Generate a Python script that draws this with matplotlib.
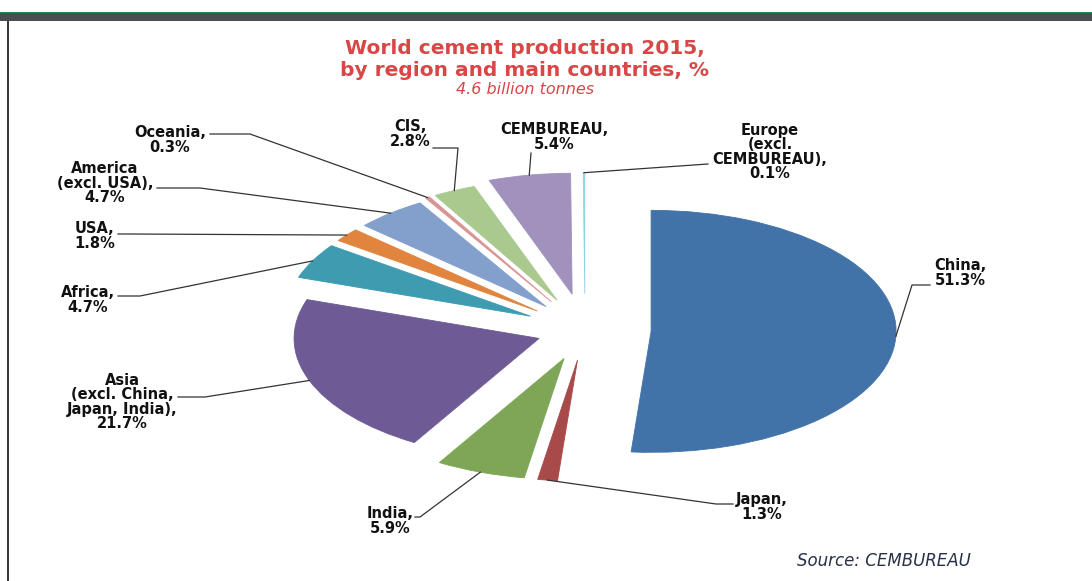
import matplotlib.pyplot as plt
from matplotlib.patches import Rectangle
import numpy as np

# world cement production 2015, share by region (%)
regions = ["China", "Japan", "India", "Asia\n(excl. China,\nJapan, India)", "Africa", "USA",
           "America\n(excl. USA)", "Oceania", "CIS", "CEMBUREAU", "Europe\n(excl.\nCEMBUREAU)"]
shares = [51.3, 1.3, 5.9, 21.7, 4.7, 1.8, 4.7, 0.3, 2.8, 5.4, 0.1]

colors = ["#4273a8", "#a84a4a", "#7fa656", "#6e5a95", "#3e9bb0", "#e0843e",
          "#839fcc", "#d99594", "#a9c98e", "#a091bd", "#8fd3e4"]
explode = [0.27, 0.25, 0.25, 0.2, 0.25, 0.25, 0.25, 0.27, 0.27, 0.3, 0.3]

# label centre (px) and leader elbows (px) for each slice
label_pos = [(960, 273), (762, 507), (390, 521), (122, 402), (88, 300), (95, 236),
             (105, 183), (170, 140), (410, 134), (554, 137), (770, 152)]
elbows = [[(912, 285), (930, 285)], [(716, 504), (733, 504)], [(420, 517), (415, 517)],
          [(205, 397), (178, 397)], [(140, 296), (118, 296)], [(130, 234), (118, 234)],
          [(200, 188), (157, 188)], [(250, 134), (210, 134)], [(458, 148), (433, 148)],
          [(531, 153)], [(708, 164)]]

W, H = 1092, 581
fig = plt.figure(figsize=(W / 100, H / 100), dpi=100)

# pie sits in its own axes, stretched horizontally
cx, cy, sx, sy, ext = 585, 330, 245, 121, 1.6
pax = fig.add_axes([(cx - ext * sx) / W, (H - (cy + ext * sy)) / H,
                    2 * ext * sx / W, 2 * ext * sy / H])
wedges, _ = pax.pie(shares, colors=colors, explode=explode, startangle=90,
                    counterclock=False, radius=1, wedgeprops=dict(linewidth=0.6))
for w, c in zip(wedges, colors):
    w.set_edgecolor(c)
pax.set_aspect("auto")
pax.set_xlim(-ext, ext)
pax.set_ylim(-ext, ext)
pax.axis("off")

# overlay in pixel coordinates for frame, titles, labels
ov = fig.add_axes([0, 0, 1, 1])
ov.set_xlim(0, W)
ov.set_ylim(H, 0)
ov.axis("off")

ov.add_patch(Rectangle((0, 11.5), W, 1.5, color="#1f8a50", lw=0))
ov.add_patch(Rectangle((0, 13.0), W, 8.0, color="#4b4e51", lw=0))
ov.add_patch(Rectangle((6.5, 21), 2.5, H - 21, color="#3a3a3a", lw=0))

red = "#d84646"
ov.text(525, 48, "World cement production 2015,", ha="center", va="center",
        fontsize=14.5, fontweight="bold", color=red)
ov.text(525, 70, "by region and main countries, %", ha="center", va="center",
        fontsize=14.5, fontweight="bold", color=red)
ov.text(525, 90, "4.6 billion tonnes", ha="center", va="center",
        fontsize=11.5, style="italic", color=red)
ov.text(884, 561, "Source: CEMBUREAU", ha="center", va="center",
        fontsize=12, style="italic", color="#283048")

for w, name, share, pos, elb in zip(wedges, regions, shares, label_pos, elbows):
    mid = np.deg2rad((w.theta1 + w.theta2) / 2)
    ax_pt = (w.center[0] + w.r * np.cos(mid), w.center[1] + w.r * np.sin(mid))
    px = ov.transData.inverted().transform(pax.transData.transform(ax_pt))
    pts = [tuple(px)] + elb
    ov.plot([p[0] for p in pts], [p[1] for p in pts], color="#333333", lw=0.9)
    ov.text(pos[0], pos[1], f"{name},\n{share:.1f}%", ha="center", va="center",
            fontsize=10.5, fontweight="bold", color="#111111", linespacing=0.92)

fig.savefig("out.png", dpi=100, facecolor="white")
